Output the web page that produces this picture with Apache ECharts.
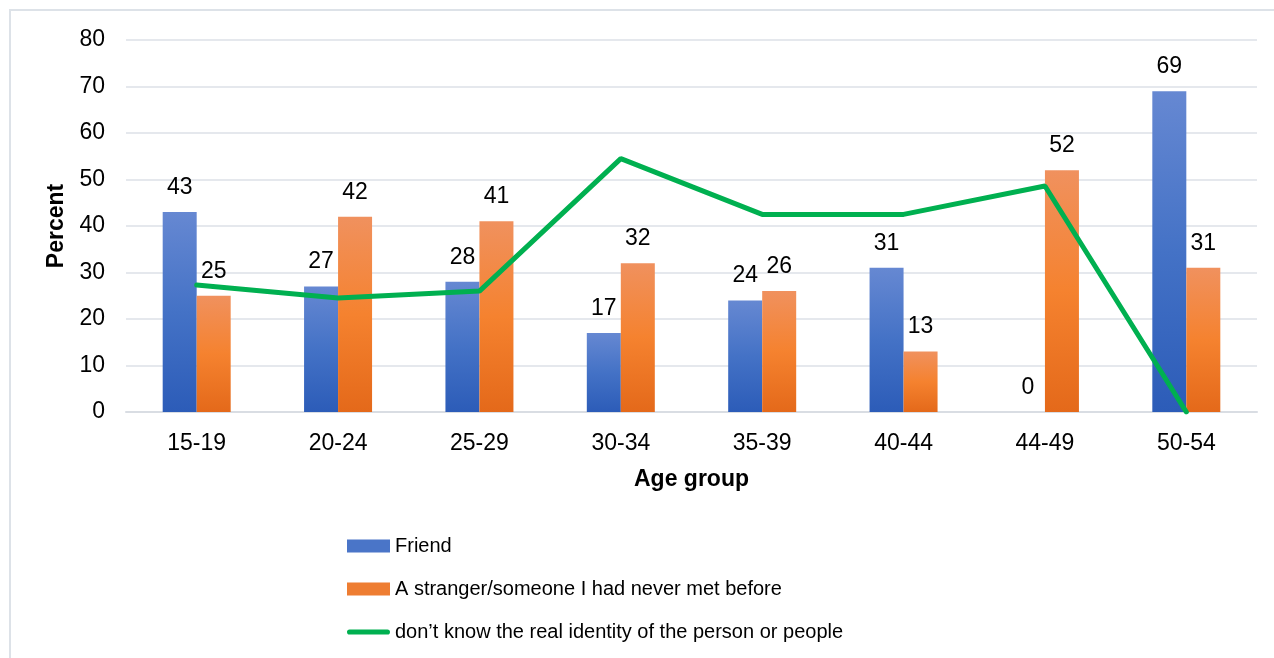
<!DOCTYPE html>
<html>
<head>
<meta charset="utf-8">
<style>
  html, body { margin: 0; padding: 0; background: #ffffff; }
  #chart { width: 1274px; height: 658px; }
</style>
<script src="https://cdn.jsdelivr.net/npm/echarts@6/dist/echarts.min.js"></script>
</head>
<body>
<div id="chart"></div>
<script>
// Age groups on the category axis
const ageGroups = ['15-19', '20-24', '25-29', '30-34', '35-39', '40-44', '44-49', '50-54'];

// Percent of respondents per age group
const friendValues = [43, 27, 28, 17, 24, 31, 0, 69];
const strangerValues = [25, 42, 41, 32, 26, 13, 52, 31];
const unknownIdentityValues = [27.3, 24.5, 26, 54.5, 42.5, 42.5, 48.6, 0];

// Y axis ticks
const yTicks = { min: 0, max: 80, interval: 10 };

const seriesNames = [
  'Friend',
  'A stranger/someone I had never met before',
  'don\u2019t know the real identity of the person or people'
];

const FONT = '"Liberation Sans", Arial, sans-serif';

function vGrad(top, mid, bottom) {
  return new echarts.graphic.LinearGradient(0, 0, 0, 1, [
    { offset: 0, color: top },
    { offset: 0.5, color: mid },
    { offset: 1, color: bottom }
  ]);
}

const blueFill = vGrad('#6688d2', '#4472c6', '#2c5cb8');
const orangeFill = vGrad('#f0915e', '#f5822f', '#e4691a');

// rounded bar used as the legend mark of the line series
const lineIcon = 'path://M2.5,0 L39.5,0 A2.5,2.5 0 0 1 39.5,5 L2.5,5 A2.5,2.5 0 0 1 2.5,0 Z';

const valueLabel = {
  show: true,
  position: 'top',
  distance: 13,
  color: '#000',
  fontFamily: FONT,
  fontSize: 23
};

const chart = echarts.init(document.getElementById('chart'), null, { renderer: 'canvas' });

chart.setOption({
  backgroundColor: '#ffffff',
  animation: false,
  graphic: [{
    type: 'rect',
    shape: { x: 10, y: 10, width: 1300, height: 700 },
    style: { fill: 'none', stroke: '#dde2e8', lineWidth: 2 },
    silent: true,
    z: -1
  }],
  grid: { left: 126, right: 17, top: 40, bottom: 246, containLabel: false },
  xAxis: {
    type: 'category',
    data: ageGroups,
    name: 'Age group',
    nameLocation: 'middle',
    nameGap: 56,
    nameTextStyle: { fontFamily: FONT, fontSize: 23, fontWeight: 'bold', color: '#000' },
    axisTick: { show: false },
    axisLine: { show: true, lineStyle: { color: '#d9dde3', width: 2 } },
    axisLabel: { margin: 20, fontFamily: FONT, fontSize: 23, color: '#000' }
  },
  yAxis: {
    type: 'value',
    min: yTicks.min,
    max: yTicks.max,
    interval: yTicks.interval,
    name: 'Percent',
    nameLocation: 'middle',
    nameGap: 58,
    nameTextStyle: { fontFamily: FONT, fontSize: 23, fontWeight: 'bold', color: '#000' },
    axisLine: { show: false },
    axisTick: { show: false },
    axisLabel: { margin: 21, fontFamily: FONT, fontSize: 23, color: '#000' },
    splitLine: { lineStyle: { color: '#dde1e7', width: 1.5 } }
  },
  legend: {
    orient: 'vertical',
    left: 347,
    top: 535,
    padding: 0,
    itemWidth: 43,
    itemHeight: 13,
    itemGap: 21,
    symbolKeepAspect: true,
    textStyle: {
      fontFamily: FONT,
      fontSize: 20,
      lineHeight: 22,
      color: '#000'
    },
    data: [
      { name: seriesNames[0], icon: 'rect', itemStyle: { color: '#4a75c8' } },
      { name: seriesNames[1], icon: 'rect', itemStyle: { color: '#ee7d32' } },
      { name: seriesNames[2], icon: lineIcon, itemStyle: { color: '#00b050' } }
    ]
  },
  series: [
    {
      name: seriesNames[0],
      type: 'bar',
      data: friendValues,
      barWidth: 34,
      barGap: '0%',
      itemStyle: { color: blueFill },
      label: valueLabel
    },
    {
      name: seriesNames[1],
      type: 'bar',
      data: strangerValues,
      barWidth: 34,
      barGap: '0%',
      itemStyle: { color: orangeFill },
      label: valueLabel
    },
    {
      name: seriesNames[2],
      type: 'line',
      data: unknownIdentityValues,
      symbol: 'none',
      lineStyle: { color: '#00b050', width: 5, cap: 'round' },
      itemStyle: { color: '#00b050' },
      z: 5
    }
  ]
});
</script>
</body>
</html>
